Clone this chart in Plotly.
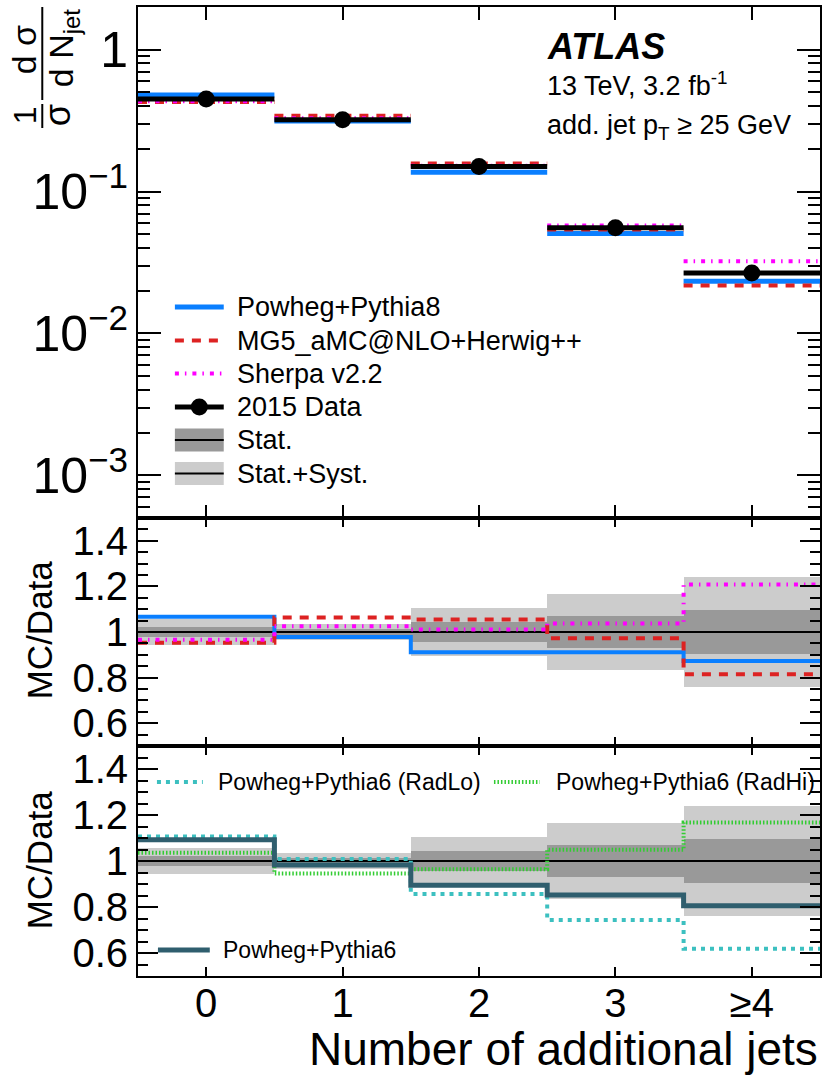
import numpy as np
import plotly.graph_objects as go

# ---------------- data ----------------
categories = ["0", "1", "2", "3", "≥4"]

data_xsec = [0.449, 0.321, 0.150, 0.0556, 0.0267]
powheg8_xsec = [0.479, 0.314, 0.1367, 0.0507, 0.0233]
mg5_xsec = [0.428, 0.342, 0.158, 0.0541, 0.0218]
sherpa_xsec = [0.434, 0.329, 0.152, 0.0577, 0.0323]

data_ratio = [1.0, 1.0, 1.0, 1.0, 1.0]
stat_err = [0.02, 0.015, 0.043, 0.07, 0.097]
total_err = [0.058, 0.035, 0.105, 0.165, 0.24]

powheg8_ratio = [1.067, 0.978, 0.911, 0.911, 0.873]
mg5_ratio = [0.953, 1.064, 1.055, 0.973, 0.815]
sherpa_ratio = [0.966, 1.025, 1.011, 1.037, 1.208]

pythia6_ratio = [1.092, 0.983, 0.895, 0.852, 0.805]
radlo_ratio = [1.106, 1.009, 0.856, 0.744, 0.619]
radhi_ratio = [1.036, 0.946, 0.964, 1.049, 1.167]

# ---------------- styles ----------------
FONT = "Liberation Sans, Arial, Helvetica, sans-serif"
C_BLUE = "#0a7fff"
C_RED = "#dd2222"
C_MAG = "#ff00ff"
C_TEAL = "#2f5e6e"
C_CYAN = "#3cc0c0"
C_GREEN = "#33cc33"
C_DARK = "#999999"
C_LIGHT = "#cccccc"
D_RED = "9px,8px"
D_MAG = "4px,6px,1.5px,6px"
D_CYAN = "4px,5px"
D_GREEN = "1.5px,2px"

n = len(categories)
centers = np.arange(n)
edges = np.arange(n + 1) - 0.5


def seg_xy(vals):
    xs, ys = [], []
    for i, v in enumerate(vals):
        xs += [edges[i], edges[i + 1], None]
        ys += [v, v, None]
    return xs, ys


def step_xy(vals):
    return list(edges), list(vals) + [vals[-1]]


fig = go.Figure()

# ---------------- top panel ----------------
for vals, col, w, dash in [
    (powheg8_xsec, C_BLUE, 5, "solid"),
    (mg5_xsec, C_RED, 4, D_RED),
    (sherpa_xsec, C_MAG, 4, D_MAG),
]:
    xs, ys = seg_xy(vals)
    fig.add_trace(go.Scatter(x=xs, y=ys, mode="lines", xaxis="x3", yaxis="y",
                             line=dict(color=col, width=w, dash=dash),
                             showlegend=False, hoverinfo="skip"))
xs, ys = seg_xy(data_xsec)
fig.add_trace(go.Scatter(x=xs, y=ys, mode="lines", xaxis="x3", yaxis="y",
                         line=dict(color="black", width=5), showlegend=False))
fig.add_trace(go.Scatter(x=centers, y=data_xsec, mode="markers", xaxis="x3", yaxis="y",
                         marker=dict(color="black", size=17), showlegend=False))


# ---------------- ratio panels ----------------
def add_bands(xa, ya):
    for err, col in [(total_err, C_LIGHT), (stat_err, C_DARK)]:
        e = np.array(err)
        fig.add_trace(go.Bar(x=centers, y=2 * e, base=np.array(data_ratio) - e, width=1,
                             marker=dict(color=col, line=dict(width=0)),
                             xaxis=xa, yaxis=ya, showlegend=False, hoverinfo="skip"))
    sx, sy = step_xy(data_ratio)
    fig.add_trace(go.Scatter(x=sx, y=sy, mode="lines", line_shape="hv", xaxis=xa, yaxis=ya,
                             line=dict(color="black", width=2), showlegend=False))


add_bands("x2", "y2")
for vals, col, w, dash in [
    (powheg8_ratio, C_BLUE, 4, "solid"),
    (mg5_ratio, C_RED, 4, D_RED),
    (sherpa_ratio, C_MAG, 4, D_MAG),
]:
    sx, sy = step_xy(vals)
    fig.add_trace(go.Scatter(x=sx, y=sy, mode="lines", line_shape="hv", xaxis="x2", yaxis="y2",
                             line=dict(color=col, width=w, dash=dash), showlegend=False))

add_bands("x", "y3")
for vals, col, w, dash in [
    (radlo_ratio, C_CYAN, 4, D_CYAN),
    (radhi_ratio, C_GREEN, 4, D_GREEN),
    (pythia6_ratio, C_TEAL, 5, "solid"),
]:
    sx, sy = step_xy(vals)
    fig.add_trace(go.Scatter(x=sx, y=sy, mode="lines", line_shape="hv", xaxis="x", yaxis="y3",
                             line=dict(color=col, width=w, dash=dash), showlegend=False))

# ---------------- layout geometry ----------------
L, R, T, B = 138, 822, 7, 976
W, H = 827, 1080


def px(x):
    return (x - L) / (R - L)


def py(y):
    return (B - y) / (B - T)


top_lo = py(518)
mid_lo = py(746)

common_x = dict(range=[-0.5, 4.5], tickvals=list(centers), ticks="inside", tickwidth=2,
                tickcolor="black", showline=True, linewidth=2, linecolor="black",
                mirror="allticks", showgrid=False, zeroline=False)
ratio_y = dict(range=[0.5, 1.5], tickvals=[0.6, 0.8, 1.0, 1.2, 1.4],
               ticktext=["0.6", "0.8", "1", "1.2", "1.4"], ticks="inside", ticklen=20,
               tickwidth=2, tickcolor="black", showline=True, linewidth=2, linecolor="black",
               mirror="allticks", showgrid=False, zeroline=False,
               tickfont=dict(size=40, family=FONT, color="black"),
               minor=dict(tick0=0.5, dtick=0.05, ticks="inside", ticklen=10, tickwidth=2,
                          tickcolor="black", showgrid=False))

fig.update_layout(
    width=W, height=H, plot_bgcolor="white", paper_bgcolor="white",
    margin=dict(l=L, r=W - R, t=T, b=H - B),
    barmode="overlay", bargap=0, showlegend=False,
    font=dict(family=FONT, color="black"),
    xaxis=dict(common_x, anchor="y3", ticktext=categories, ticklen=9, ticklabelstandoff=-9,
               tickfont=dict(size=40, family=FONT, color="black")),
    xaxis2=dict(common_x, anchor="y2", matches="x", showticklabels=False, ticklen=9),
    xaxis3=dict(common_x, anchor="y", matches="x", showticklabels=False, ticklen=13),
    yaxis=dict(domain=[top_lo, 1], anchor="x3", type="log", range=[-3.301, 0.301], dtick=1,
               exponentformat="power", ticks="inside", ticklen=23, tickwidth=2,
               tickcolor="black", showline=True, linewidth=2, linecolor="black",
               mirror="allticks", showgrid=False, zeroline=False,
               tickfont=dict(size=40, family=FONT, color="black"),
               minor=dict(ticks="inside", ticklen=12, tickwidth=2, tickcolor="black",
                          dtick="D1", showgrid=False)),
    yaxis2=dict(ratio_y, domain=[mid_lo, top_lo], anchor="x2"),
    yaxis3=dict(ratio_y, domain=[0, mid_lo], anchor="x"),
)

ann = []
shapes = []


def text(x, y, s, size, xanchor="left", angle=0, yanchor="middle"):
    ann.append(dict(x=px(x), y=py(y), xref="paper", yref="paper", text=s, showarrow=False,
                    xanchor=xanchor, yanchor=yanchor, textangle=angle,
                    font=dict(size=size, family=FONT, color="black")))


def hline(x0, x1, y, col, w, dash="solid"):
    shapes.append(dict(type="line", xref="paper", yref="paper", x0=px(x0), x1=px(x1),
                       y0=py(y), y1=py(y), line=dict(color=col, width=w, dash=dash)))


def rect(x0, x1, y0, y1, col):
    shapes.append(dict(type="rect", xref="paper", yref="paper", x0=px(x0), x1=px(x1),
                       y0=py(y1), y1=py(y0), fillcolor=col, line=dict(width=0)))


# axis titles
text(25, 115, "1", 32, "center", -90)
text(58, 115, "σ", 36, "center", -90)
shapes.append(dict(type="line", xref="paper", yref="paper", x0=px(42), x1=px(42),
                   y0=py(104), y1=py(128), line=dict(color="black", width=2)))
text(24, 50, "d σ", 34, "center", -90)
text(63, 48, "d N<sub>jet</sub>", 34, "center", -90)
shapes.append(dict(type="line", xref="paper", yref="paper", x0=px(42), x1=px(42),
                   y0=py(7), y1=py(100), line=dict(color="black", width=2)))
text(39, 630, "MC/Data", 35, "center", -90)
text(39, 860, "MC/Data", 35, "center", -90)
text(822, 1049, "Number of additional jets", 46, "right")

# ATLAS labels
text(546, 46, "<b><i>ATLAS</i></b>", 36)
text(546, 84, "13 TeV, 3.2 fb<sup>-1</sup>", 27)
text(546, 127, "add. jet p<sub>T</sub> ≥ 25 GeV", 27)

# top legend
rows = [307, 340.5, 373.5, 407, 440, 473.5]
hline(175, 224, rows[0], C_BLUE, 5)
text(235, rows[0], "Powheg+Pythia8", 27)
hline(175, 224, rows[1], C_RED, 4, D_RED)
text(235, rows[1], "MG5_aMC@NLO+Herwig++", 27)
hline(175, 224, rows[2], C_MAG, 4, D_MAG)
text(235, rows[2], "Sherpa v2.2", 27)
hline(175, 224, rows[3], "black", 5)
shapes.append(dict(type="circle", xref="paper", yref="paper", xsizemode="pixel",
                   ysizemode="pixel", xanchor=px(199.5), yanchor=py(rows[3]),
                   x0=-8.5, x1=8.5, y0=-8.5, y1=8.5, fillcolor="black", line=dict(width=0)))
text(235, rows[3], "2015 Data", 27)
rect(175, 224, rows[4] - 11.5, rows[4] + 11.5, C_DARK)
hline(175, 224, rows[4], "black", 2)
text(235, rows[4], "Stat.", 27)
rect(175, 224, rows[5] - 11.5, rows[5] + 11.5, C_LIGHT)
hline(175, 224, rows[5], "black", 2)
text(235, rows[5], "Stat.+Syst.", 27)

# bottom legends
hline(157, 203, 782, C_CYAN, 4, D_CYAN)
text(216, 782, "Powheg+Pythia6 (RadLo)", 23)
hline(495, 541, 782, C_GREEN, 4, D_GREEN)
text(555, 782, "Powheg+Pythia6 (RadHi)", 23)
hline(158, 210, 950, C_TEAL, 5)
text(221, 950, "Powheg+Pythia6", 23)

fig.update_layout(annotations=ann, shapes=shapes)
fig.write_html("out.html")
